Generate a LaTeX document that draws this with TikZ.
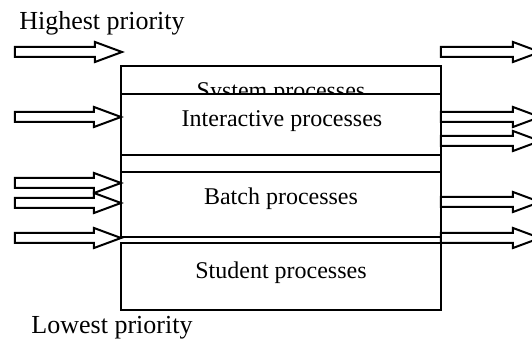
\documentclass[tikz,border=0pt]{standalone}
\usepackage{fontspec}
\setmainfont{Liberation Serif}
\begin{document}
\begin{tikzpicture}[x=0.5pt,y=-0.5pt,
  procbox/.style={draw=black, fill=white, line width=1pt},
  blk/.style={draw=black, fill=white, line width=1pt, line join=miter},
  boxtext/.style={font=\fontsize{12}{14}\selectfont, anchor=base, inner sep=0pt},
  prio/.style={font=\fontsize{13}{15}\selectfont, anchor=base, inner sep=0pt},
  pics/barrow/.style={code={\draw[blk] (0,0) -- (-27,-10) -- (-27,-5) -- (-#1,-5) -- (-#1,5) -- (-27,5) -- (-27,10) -- cycle;}}
]
\clip (0,0) rectangle (532,342);
\fill[white] (0,0) rectangle (532,342);

% boxes, drawn in order so that later ones cover earlier ones
\draw[procbox] (121,66) rectangle (441,122);
\node[boxtext] (sys) at (281,99) {System processes};
\draw[procbox] (121,94) rectangle (441,155);
\node[boxtext] (inter) at (282,127) {Interactive processes};
\draw[procbox] (121,155) rectangle (441,215);
\draw[procbox] (121,172) rectangle (441,237);
\node[boxtext] (batch) at (281,205) {Batch processes};
\draw[procbox] (121,243) rectangle (441,310);
\node[boxtext] (stud) at (281,279) {Student processes};

% labels
\node[prio] (hi) at (102,30) {Highest priority};
\node[prio] (lo) at (112,334) {Lowest priority};

% incoming arrows (left)
\pic at (122,52) {barrow=107};
\pic at (121,117) {barrow=106};
\pic at (121,183) {barrow=106};
\pic at (121,203) {barrow=106};
\pic at (121,238) {barrow=106};

% outgoing arrows (right)
\pic at (540,52) {barrow=99};
\pic at (540,117) {barrow=99};
\pic at (540,141) {barrow=99};
\pic at (540,202) {barrow=99};
\pic at (540,238) {barrow=99};
\end{tikzpicture}
\end{document}
